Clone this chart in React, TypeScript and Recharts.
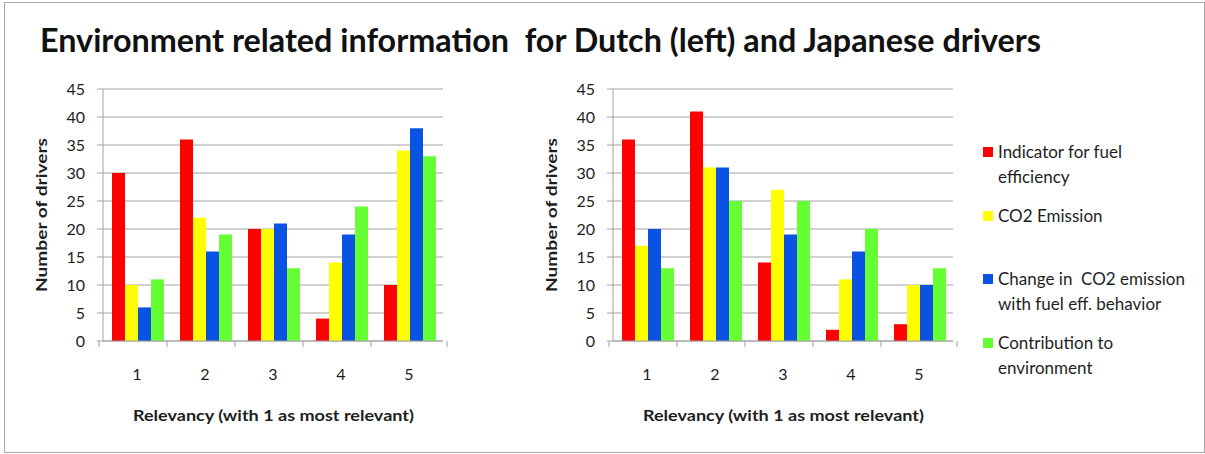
import { BarChart, Bar, XAxis, YAxis, CartesianGrid } from "recharts";

const categories = ["1", "2", "3", "4", "5"];
const seriesNames = [
  "Indicator for fuel efficiency",
  "CO2 Emission",
  "Change in  CO2 emission with fuel eff. behavior",
  "Contribution to environment",
];
const legendLines = [
  ["Indicator for fuel", "efficiency"],
  ["CO2 Emission"],
  ["Change in  CO2 emission", "with fuel eff. behavior"],
  ["Contribution to", "environment"],
];
const seriesColors = ["#ff0000", "#ffff00", "#0a52e1", "#66ff33"];

// Dutch drivers (left)
const dutchIndicator = [30, 36, 20, 4, 10];
const dutchCo2 = [10, 22, 20, 14, 34];
const dutchChange = [6, 16, 21, 19, 38];
const dutchContribution = [11, 19, 13, 24, 33];

// Japanese drivers (right)
const japIndicator = [36, 41, 14, 2, 3];
const japCo2 = [17, 31, 27, 11, 10];
const japChange = [20, 31, 19, 16, 10];
const japContribution = [13, 25, 25, 20, 13];

const yTicks = [0, 5, 10, 15, 20, 25, 30, 35, 40, 45];

const keys = ["s0", "s1", "s2", "s3"];

const buildRows = (series: number[][]) =>
  categories.map((c, i) => {
    const row: Record<string, any> = { name: c };
    series.forEach((s, j) => {
      row[keys[j]] = s[i];
    });
    return row;
  });

const dutchData = buildRows([dutchIndicator, dutchCo2, dutchChange, dutchContribution]);
const japData = buildRows([japIndicator, japCo2, japChange, japContribution]);

const FONT = "Lato, 'Open Sans', sans-serif";
const TEXT = "#1e1e1e";
const GRID = "#a3a3a3";
const CHART_W = 460;
const CHART_H = 400;
const MARGIN = { top: 89, right: 17, bottom: 29, left: 63 };
const PLOT_W = CHART_W - MARGIN.left - MARGIN.right;
const BAND = PLOT_W / categories.length;
const TICK_SIZE = 6;
const X_TICK_MARGIN = 22;

const XTick = (props: any) => {
  const { x, y, payload, index } = props;
  const axisY = y - TICK_SIZE - X_TICK_MARGIN;
  return (
    <g>
      <line x1={x - BAND / 2} y1={axisY} x2={x - BAND / 2} y2={axisY + TICK_SIZE} stroke={GRID} />
      {index === categories.length - 1 && (
        <line x1={x + BAND / 2} y1={axisY} x2={x + BAND / 2} y2={axisY + TICK_SIZE} stroke={GRID} />
      )}
      <text x={x} y={y} dy="0.71em" textAnchor="middle" fill={TEXT} fontSize={16} fontFamily={FONT}>
        {payload.value}
      </text>
    </g>
  );
};

const Panel = ({ data, left }: { data: any[]; left: number }) => (
  <div style={{ position: "absolute", left, top: 0 }}>
    <BarChart width={CHART_W} height={CHART_H} data={data} margin={MARGIN} barCategoryGap={9} barGap={0}>
      <CartesianGrid vertical={false} stroke={GRID} />
      <XAxis
        dataKey="name"
        height={30}
        stroke={GRID}
        tickLine={false}
        tickSize={TICK_SIZE}
        tickMargin={X_TICK_MARGIN}
        tick={<XTick />}
        interval={0}
      />
      <YAxis
        width={40}
        domain={[0, 45]}
        ticks={yTicks}
        interval={0}
        stroke={GRID}
        tickSize={TICK_SIZE}
        tickMargin={12}
        tick={{ fill: TEXT, fontSize: 16, fontFamily: FONT }}
      />
      {keys.map((k, j) => (
        <Bar key={k} dataKey={k} name={seriesNames[j]} fill={seriesColors[j]} isAnimationActive={false} />
      ))}
    </BarChart>
  </div>
);

export default function App() {
  return (
    <div
      style={{
        position: "absolute",
        left: 0,
        top: 0,
        width: 1205,
        height: 454,
        background: "#fff",
        fontFamily: FONT,
      }}
    >
      <div
        style={{
          position: "absolute",
          left: 4,
          top: 2,
          width: 1199,
          height: 449,
          border: "1px solid #a8a8a8",
        }}
      />
      <Panel data={dutchData} left={0} />
      <Panel data={japData} left={510} />
      <svg
        width={1205}
        height={454}
        style={{ position: "absolute", left: 0, top: 0, pointerEvents: "none" }}
      >
        <text
          x={40}
          y={52}
          fontSize={32}
          fontWeight="bold"
          fill="#111"
          fontFamily={FONT}
          textLength={1001}
          lengthAdjust="spacingAndGlyphs"
          style={{ whiteSpace: "pre" }}
        >
          {"Environment related information  for Dutch (left) and Japanese drivers"}
        </text>
        {[0, 510].map((dx) => (
          <g key={dx}>
            <text
              x={133 + dx}
              y={421}
              fontSize={15}
              fontWeight="bold"
              fill={TEXT}
              fontFamily={FONT}
              textLength={281}
              lengthAdjust="spacingAndGlyphs"
            >
              Relevancy (with 1 as most relevant)
            </text>
            <text
              x={0}
              y={0}
              transform={`translate(${dx === 0 ? 47 : 557},215) rotate(-90)`}
              textAnchor="middle"
              fontSize={15}
              fontWeight="bold"
              fill={TEXT}
              fontFamily={FONT}
              textLength={154}
              lengthAdjust="spacingAndGlyphs"
            >
              Number of drivers
            </text>
          </g>
        ))}
      </svg>
      <div style={{ position: "absolute", left: 983, top: 139 }}>
        {legendLines.map((lines, j) => (
          <div key={j} style={{ position: "relative", height: 63.5 }}>
            <div
              style={{
                position: "absolute",
                left: 0,
                top: 8,
                width: 10,
                height: 10,
                background: seriesColors[j],
              }}
            />
            <div
              style={{
                position: "absolute",
                left: 15,
                top: 0,
                whiteSpace: "pre",
                fontSize: 17,
                lineHeight: "25px",
                color: TEXT,
              }}
            >
              {lines.join("\n")}
            </div>
          </div>
        ))}
      </div>
    </div>
  );
}
